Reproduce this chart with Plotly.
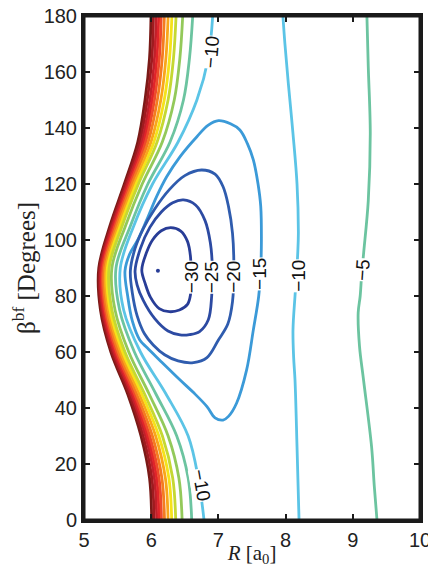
import plotly.graph_objects as go

# ---- repulsive-wall contour branches, sampled at these beta values ----
wall_beta = [0, 15, 30, 45, 60, 75, 90, 105, 120, 135, 150, 165, 180]
R_p45 = [6.007, 5.975, 5.848, 5.650, 5.400, 5.245, 5.220, 5.385, 5.600, 5.800, 5.908, 5.975, 5.997]
R_p40 = [6.043, 6.010, 5.880, 5.675, 5.421, 5.262, 5.235, 5.403, 5.621, 5.829, 5.942, 6.011, 6.034]
R_p35 = [6.082, 6.047, 5.915, 5.703, 5.444, 5.281, 5.252, 5.423, 5.644, 5.860, 5.980, 6.049, 6.075]
R_p30 = [6.117, 6.081, 5.946, 5.728, 5.465, 5.298, 5.267, 5.441, 5.665, 5.889, 6.014, 6.085, 6.112]
R_p25 = [6.153, 6.116, 5.978, 5.753, 5.486, 5.315, 5.283, 5.460, 5.686, 5.918, 6.048, 6.121, 6.149]
R_p20 = [6.198, 6.159, 6.018, 5.784, 5.512, 5.336, 5.302, 5.483, 5.712, 5.954, 6.091, 6.165, 6.196]
R_p15 = [6.251, 6.211, 6.066, 5.822, 5.544, 5.362, 5.325, 5.510, 5.744, 5.997, 6.143, 6.219, 6.252]
R_p10 = [6.305, 6.263, 6.114, 5.860, 5.575, 5.388, 5.348, 5.538, 5.775, 6.040, 6.194, 6.273, 6.308]
R_p05 = [6.365, 6.320, 6.167, 5.902, 5.610, 5.416, 5.374, 5.568, 5.810, 6.088, 6.251, 6.332, 6.370]
R_p00 = [6.460, 6.412, 6.252, 5.969, 5.666, 5.462, 5.415, 5.617, 5.866, 6.165, 6.343, 6.427, 6.469]
R_m05 = [6.603, 6.550, 6.380, 6.070, 5.750, 5.530, 5.476, 5.690, 5.950, 6.280, 6.480, 6.570, 6.618]
R_m10 = [6.786, 6.700, 6.550, 6.220, 5.840, 5.590, 5.540, 5.740, 6.020, 6.400, 6.680, 6.850, 6.915]

wall_levels = [45, 40, 35, 30, 25, 20, 15, 10, 5, 0, -5, -10]
wall_colors = ["#7a1a17", "#9e1b1f", "#c0202a", "#e0242a", "#ee4a2b", "#f47b20",
               "#f9a61a", "#f5e21a", "#c5d832", "#93c95a", "#6cc4a0", "#5bc4e6"]

# ---- closed wells ----
loop30_R = [5.86, 5.93, 6.02, 6.15, 6.29, 6.44, 6.54, 6.585, 6.59, 6.585, 6.54, 6.42, 6.27, 6.12, 5.99, 5.91, 5.86]
loop30_b = [89.3, 95.5, 100.0, 103.3, 104.4, 103.2, 99.5, 94.0, 87.0, 80.5, 77.0, 75.0, 74.4, 75.5, 79.5, 84.5, 89.3]

loop25_R = [5.76, 5.84, 5.98, 6.15, 6.32, 6.48, 6.66, 6.80, 6.88, 6.91, 6.90, 6.85, 6.72, 6.57, 6.43, 6.25, 6.05, 5.88, 5.79, 5.76]
loop25_b = [89.0, 97.0, 104.5, 110.0, 113.3, 114.3, 112.5, 107.0, 99.0, 90.0, 80.0, 71.5, 67.3, 66.2, 66.1, 67.5, 72.0, 78.5, 84.0, 89.0]

loop20_R = [5.69, 5.76, 5.88, 6.05, 6.27, 6.50, 6.75, 6.95, 7.07, 7.15, 7.21, 7.23, 7.21, 7.14, 7.00, 6.83, 6.63, 6.40, 6.20, 6.03, 5.90, 5.79, 5.72, 5.69]
loop20_b = [89.0, 97.0, 104.0, 111.0, 118.0, 123.0, 125.0, 123.5, 119.0, 112.0, 102.4, 90.0, 78.0, 70.0, 64.3, 58.0, 56.2, 56.8, 59.0, 62.5, 66.5, 73.0, 81.0, 89.0]

loop15_R = [5.61, 5.68, 5.80, 5.93, 6.08, 6.23, 6.43, 6.68, 6.85, 7.00, 7.18, 7.32, 7.43, 7.52, 7.59, 7.63, 7.64, 7.63, 7.60, 7.52, 7.42, 7.27, 7.15, 7.07, 6.95, 6.83, 6.63, 6.43, 6.13, 5.94, 5.83, 5.72, 5.65, 5.61]
loop15_b = [89.0, 95.0, 100.0, 107.0, 115.5, 122.6, 129.8, 136.9, 141.0, 142.6, 141.5, 139.3, 134.5, 128.6, 120.0, 112.0, 100.0, 90.0, 80.0, 67.9, 53.6, 41.7, 37.0, 35.7, 36.5, 40.5, 45.5, 50.0, 57.0, 61.5, 64.3, 71.0, 80.0, 89.0]

# ---- open branches on the right ----
mid10_R = [7.96, 7.99, 8.04, 8.11, 8.17, 8.19, 8.18, 8.16, 8.14, 8.11, 8.12, 8.14, 8.17, 8.20]
mid10_b = [180, 170, 156, 138, 120, 102.4, 95, 87, 80, 67.9, 58, 50, 26.2, 0]
m05_R = [9.21, 9.23, 9.26, 9.23, 9.16, 9.13, 9.11, 9.08, 9.10, 9.16, 9.28, 9.32, 9.36]
m05_b = [180, 162, 138, 114, 95, 87, 80, 74, 62, 50, 26, 12, 0]

# minimum marker
min_R = [6.10]
min_b = [89.0]

# contour labels: text, R, beta, angle
lab_text = ["−30", "−25", "−20", "−15", "−10", "−5", "−10", "−10"]
lab_R = [6.61, 6.91, 7.23, 7.62, 8.18, 9.15, 6.89, 6.755]
lab_b = [86.8, 86.8, 86.8, 87.9, 87.1, 89.3, 167.1, 12.5]
lab_ang = [-90, -90, -90, -90, -90, -86, -85, 80]

fig = go.Figure()

LW = 2.8
wall_R = [R_p45, R_p40, R_p35, R_p30, R_p25, R_p20, R_p15, R_p10, R_p05, R_p00, R_m05, R_m10]
for rr, col in zip(wall_R, wall_colors):
    fig.add_trace(go.Scatter(x=rr, y=wall_beta, mode="lines",
                             line=dict(color=col, width=LW, shape="spline", smoothing=1.0),
                             hoverinfo="skip"))

loops = [(loop15_R, loop15_b, "#3b9ad8"), (loop20_R, loop20_b, "#2f5cae"),
         (loop25_R, loop25_b, "#2c4aa2"), (loop30_R, loop30_b, "#283d97")]
for rr, bb, col in loops:
    fig.add_trace(go.Scatter(x=rr, y=bb, mode="lines",
                             line=dict(color=col, width=LW, shape="spline", smoothing=1.0),
                             hoverinfo="skip"))

fig.add_trace(go.Scatter(x=mid10_R, y=mid10_b, mode="lines",
                         line=dict(color="#5bc4e6", width=LW, shape="spline", smoothing=1.0)))
fig.add_trace(go.Scatter(x=m05_R, y=m05_b, mode="lines",
                         line=dict(color="#6cc4a0", width=LW, shape="spline", smoothing=1.0)))
fig.add_trace(go.Scatter(x=min_R, y=min_b, mode="markers",
                         marker=dict(color="#283d97", size=4)))

for t, xr, yb, a in zip(lab_text, lab_R, lab_b, lab_ang):
    fig.add_annotation(x=xr, y=yb, text=t, textangle=a, showarrow=False,
                       bgcolor="white", borderpad=0,
                       font=dict(family="Liberation Sans, Arial", size=19, color="#111"))

axis_common = dict(showline=True, linewidth=3, linecolor="#1a1a1a", mirror="ticks",
                   ticks="inside", ticklen=6, tickwidth=2, tickcolor="#1a1a1a",
                   showgrid=False, zeroline=False, ticklabeloverflow="allow",
                   tickfont=dict(family="Liberation Sans, Arial", size=20, color="#222"))

fig.update_xaxes(range=[5, 10], tickvals=[5, 6, 7, 8, 9, 10],
                 title=dict(text="<i>R</i> [a<sub>0</sub>]", standoff=13,
                            font=dict(family="Liberation Serif, Times New Roman", size=21, color="#222")),
                 **axis_common)
fig.update_yaxes(range=[0, 180], tickvals=list(range(0, 181, 20)),
                 title=dict(text="β<sup>bf</sup> [Degrees]", standoff=4,
                            font=dict(family="Liberation Serif, Times New Roman", size=25, color="#222")),
                 **axis_common)

# frame around the plotting area (drawn on top of the traces)
fig.add_shape(type="rect", xref="paper", yref="paper", x0=0, x1=1, y0=0, y1=1,
              line=dict(color="#1a1a1a", width=3), layer="above")

# page body adds an 8 px offset, so the figure is sized/margined to land the
# plot area at the reference position (x 84-420, y 16-520 px on the page)
fig.update_layout(width=428, height=559, margin=dict(l=76, r=16, t=8, b=47, autoexpand=False),
                  plot_bgcolor="white", paper_bgcolor="white", showlegend=False)

fig.write_html("out.html")
